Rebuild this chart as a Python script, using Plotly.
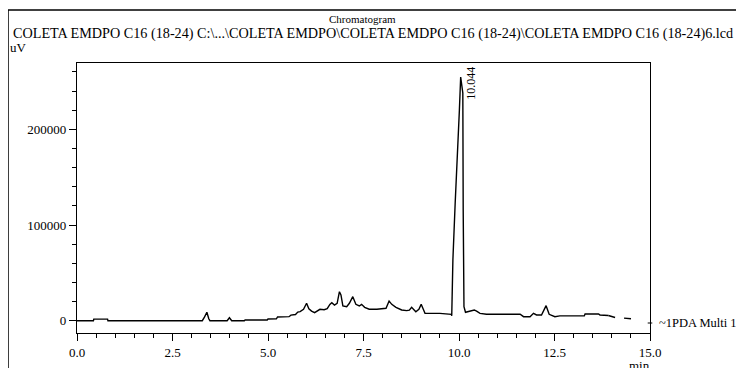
import plotly.graph_objects as go

# Retention time (min) and detector signal (uV)
time_min = [0.0, 0.43, 0.44, 0.80, 0.81, 3.28, 3.34, 3.40, 3.45, 3.48, 3.93, 3.99, 4.05,
            4.38, 4.40, 4.98, 5.00, 5.22, 5.25, 5.55, 5.60, 5.72, 5.78, 5.84, 5.93, 6.01,
            6.07, 6.14, 6.22, 6.30, 6.36, 6.47, 6.55, 6.62, 6.67, 6.74, 6.81, 6.87, 6.91,
            6.96, 7.06, 7.13, 7.22, 7.30, 7.39, 7.45, 7.53, 7.65, 7.85, 8.09, 8.17, 8.24,
            8.35, 8.50, 8.63, 8.70, 8.76, 8.87, 8.95, 9.01, 9.11, 9.50, 9.76, 9.80, 9.81,
            9.84, 9.90, 9.96, 10.01, 10.044, 10.10, 10.11, 10.13, 10.17, 10.29, 10.40,
            10.46, 10.55, 10.72, 11.60, 11.69, 11.86, 11.95, 12.03, 12.16, 12.28, 12.36,
            12.51, 12.64, 13.28, 13.30, 13.65, 13.69, 13.91]
signal_uv = [0, 0, 1700, 1700, 0, 0, 4000, 8800, 2000, 0, 0, 3100, 0,
             0, 800, 800, 1800, 2000, 3900, 4200, 5800, 6500, 9000, 9500, 12000, 18200,
             12500, 10000, 8400, 10500, 11900, 11500, 12500, 17000, 18800, 16400, 18200, 30300, 26900,
             15400, 14600, 18200, 25100, 17100, 15400, 17100, 14000, 12000, 11900, 13000, 20600, 17100,
             14000, 11200, 10500, 11000, 14000, 9400, 12000, 17100, 7700, 7700, 6700, 6700, 5200,
             63400, 123000, 168000, 220000, 254600, 238000, 115700, 14600, 8800, 10100, 11200,
             9900, 7700, 6700, 6700, 4200, 4200, 7700, 6000, 6000, 15700, 6700,
             4200, 5000, 5000, 7000, 7000, 6000, 5400]

# Tail of the run (drawn dashed)
tail_time = [13.91, 14.11, 14.21, 14.43, 14.56, 14.72]
tail_uv = [5400, 3100, 3100, 1800, 1800, -300]

peak_time = 10.044
peak_uv = 254600
peak_label = "10.044"

x_ticks = [0.0, 2.5, 5.0, 7.5, 10.0, 12.5, 15.0]
x_tick_text = ["0.0", "2.5", "5.0", "7.5", "10.0", "12.5", "15.0"]
y_ticks = [0, 100000, 200000]
y_tick_text = ["0", "100000", "200000"]

title = "Chromatogram"
subtitle = "COLETA EMDPO C16 (18-24) C:\\...\\COLETA EMDPO\\COLETA EMDPO C16 (18-24)\\COLETA EMDPO C16 (18-24)6.lcd"
channel = "~1PDA Multi 1"

FONT = "Liberation Serif"

fig = go.Figure()
fig.add_trace(go.Scatter(x=time_min, y=signal_uv, mode="lines",
                         line=dict(color="black", width=1.4), hoverinfo="skip"))
fig.add_trace(go.Scatter(x=tail_time, y=tail_uv, mode="lines",
                         line=dict(color="black", width=1.4, dash="7px,9px"), hoverinfo="skip"))

axis_common = dict(showgrid=False, zeroline=False, showline=True, linecolor="black",
                   linewidth=1.3, mirror=True, ticks="outside", tickcolor="black",
                   tickwidth=1, ticklen=7, tickfont=dict(family=FONT, size=13, color="black"))

fig.update_xaxes(range=[0, 15], tickvals=x_ticks, ticktext=x_tick_text,
                 minor=dict(dtick=0.5, ticklen=4, ticks="outside", tickcolor="black", tickwidth=1),
                 **axis_common)
fig.update_yaxes(range=[-12850, 269300], tickvals=y_ticks, ticktext=y_tick_text,
                 minor=dict(dtick=20000, ticklen=4, ticks="outside", tickcolor="black", tickwidth=1),
                 **axis_common)

fig.update_layout(
    width=744, height=368,
    margin=dict(l=69, r=102, t=55, b=43),
    paper_bgcolor="white", plot_bgcolor="white",
    showlegend=False,
    font=dict(family=FONT, size=13, color="black"),
)

# outer frame (top and left edges)
fig.add_shape(type="line", xref="paper", yref="paper", x0=-0.1204, x1=1.2, y0=1.1963, y1=1.1963,
              line=dict(color="black", width=1.5))
fig.add_shape(type="line", xref="paper", yref="paper", x0=-0.1204, x1=-0.1204, y0=1.1963, y1=-0.2,
              line=dict(color="black", width=1.5))
# channel marker on right axis
fig.add_shape(type="line", xref="paper", yref="y", x0=0.996, x1=1.004, y0=-2400, y1=-2400,
              line=dict(color="black", width=1))

fig.add_annotation(text=title, xref="paper", yref="paper", x=0.499, y=1.163,
                   showarrow=False, font=dict(family=FONT, size=11), xanchor="center", yanchor="middle")
fig.add_annotation(text=subtitle, xref="paper", yref="paper", x=0.517, y=1.111,
                   showarrow=False, font=dict(family=FONT, size=14.2), xanchor="center", yanchor="middle")
fig.add_annotation(text="uV", xref="paper", yref="paper", x=-0.1204, y=1.0556,
                   showarrow=False, font=dict(family=FONT, size=13), xanchor="left", yanchor="middle")
fig.add_annotation(text="min", xref="paper", yref="paper", x=0.981, y=-0.122,
                   showarrow=False, font=dict(family=FONT, size=13), xanchor="center", yanchor="middle")
fig.add_annotation(text=channel, xref="paper", yref="y", x=1.0, y=-2400, xshift=7,
                   showarrow=False, font=dict(family=FONT, size=12.5), xanchor="left", yanchor="middle")
fig.add_annotation(text=peak_label, x=peak_time, y=peak_uv, textangle=-90,
                   showarrow=False, font=dict(family=FONT, size=12), xanchor="left", yanchor="middle",
                   xshift=1, yshift=-6)

fig.write_html("out.html")
